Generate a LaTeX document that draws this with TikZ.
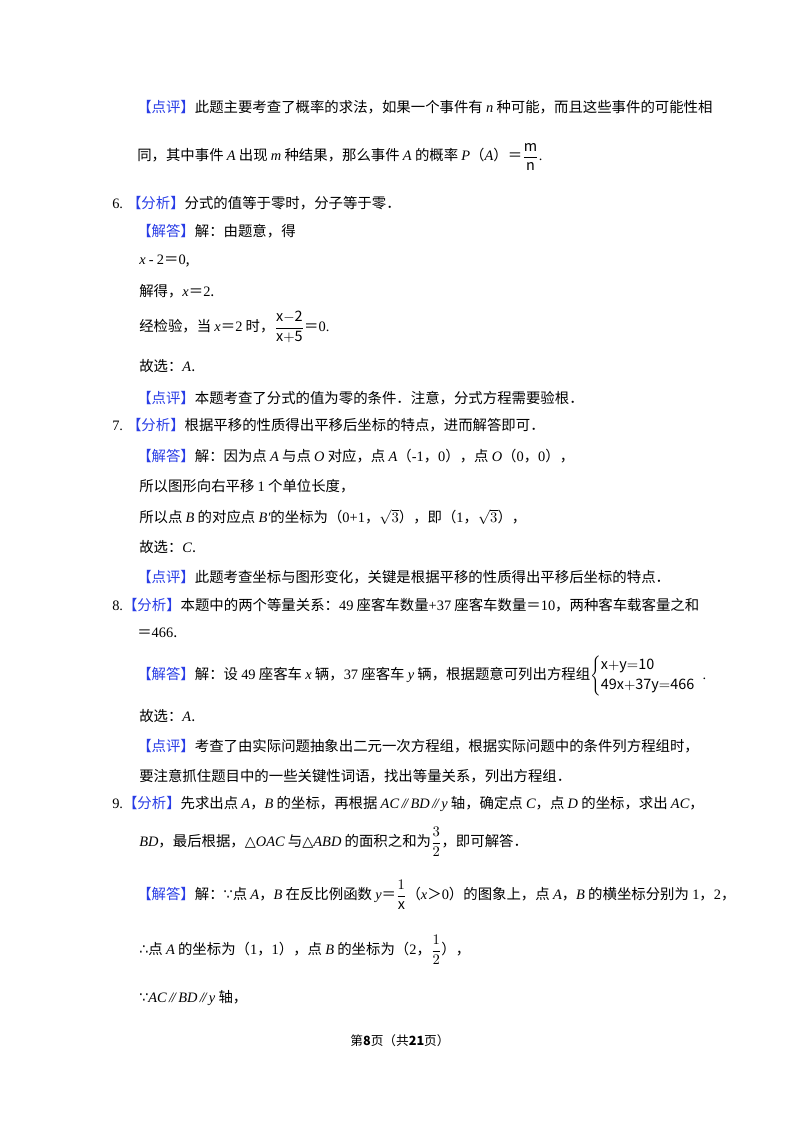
\documentclass[tikz,border=0pt]{standalone}
\usepackage{fontspec}
\setmainfont{Noto Sans CJK SC}
\newfontfamily\lat{Liberation Serif}
\newfontfamily\sym{DejaVu Sans}
\definecolor{qblue}{RGB}{40,60,230}
\newcommand\B[1]{{\color{qblue}【#1】}}
\newcommand\mi[1]{{\lat\itshape #1}}
\newcommand\nr[1]{{\lat #1}}
\newcommand\sy[1]{{\sym #1}}
\newcommand\pll{\mi{\,/\kern-1pt/\,}}
\newcommand\df[2]{$\displaystyle\frac{#1}{#2}$}
\begin{document}
\begin{tikzpicture}[x=0.75pt,y=-0.75pt,
  ln/.style={anchor=west,inner sep=0pt,font=\fontsize{10.8}{13}\selectfont}]
\useasboundingbox (0,0) rectangle (800,1132);
\fill[white] (0,0) rectangle (800,1132);
\node[ln] (l1) at (137,107) {\B{点评}此题主要考查了概率的求法，如果一个事件有 \mi{n} 种可能，而且这些事件的可能性相};
\node[ln] (l2) at (137,157) {同，其中事件 \mi{A} 出现 \mi{m} 种结果，那么事件 \mi{A} 的概率 \mi{P}（\mi{A}）＝\df{\mathrm{m}}{\mathrm{n}}\nr{.}};
\node[ln] (l3) at (112,203) {\nr{6.}\hspace{3pt}\B{分析}分式的值等于零时，分子等于零．};
\node[ln] (l4) at (137,231) {\B{解答}解：由题意，得};
\node[ln] (l5) at (139,261) {\mi{x} \nr{-} \nr{2}＝\nr{0},};
\node[ln] (l6) at (139,291) {解得，\mi{x}＝\nr{2}.};
\node[ln] (l7) at (139,327) {经检验，当 \mi{x}＝\nr{2} 时，\df{\mathrm{x{-}2}}{\mathrm{x{+}5}}＝\nr{0.}};
\node[ln] (l8) at (139,366) {故选：\mi{A}.};
\node[ln] (l9) at (137,398) {\B{点评}本题考查了分式的值为零的条件．注意，分式方程需要验根．};
\node[ln] (l10) at (112,425) {\nr{7.}\hspace{3pt}\B{分析}根据平移的性质得出平移后坐标的特点，进而解答即可．};
\node[ln] (l11) at (137,456) {\B{解答}解：因为点 \mi{A} 与点 \mi{O} 对应，点 \mi{A}（\nr{-1}，\nr{0}），点 \mi{O}（\nr{0}，\nr{0}），};
\node[ln] (l12) at (139,486) {所以图形向右平移 \nr{1} 个单位长度，};
\node[ln] (l13) at (139,517) {所以点 \mi{B} 的对应点 \mi{B′}的坐标为（\nr{0+1}，$\sqrt{3}$），即（\nr{1}，$\sqrt{3}$），};
\node[ln] (l14) at (139,547) {故选：\mi{C}.};
\node[ln] (l15) at (137,577) {\B{点评}此题考查坐标与图形变化，关键是根据平移的性质得出平移后坐标的特点．};
\node[ln] (l16) at (112,605) {\nr{8.}\B{分析}本题中的两个等量关系：\nr{49} 座客车数量\nr{+37} 座客车数量＝\nr{10}，两种客车载客量之和};
\node[ln] (l17) at (137,633) {＝\nr{466}.};
\node[ln] (l18) at (137,676) {\B{解答}解：设 \nr{49} 座客车 \mi{x} 辆，\nr{37} 座客车 \mi{y} 辆，根据题意可列出方程组$\left\{\begin{array}{@{}l}\mathrm{x{+}y{=}10}\\[2pt]\mathrm{49x{+}37y{=}466}\end{array}\right.$\nr{.}};
\node[ln] (l19) at (139,716) {故选：\mi{A}.};
\node[ln] (l20) at (137,746) {\B{点评}考查了由实际问题抽象出二元一次方程组，根据实际问题中的条件列方程组时，};
\node[ln] (l21) at (139,776) {要注意抓住题目中的一些关键性词语，找出等量关系，列出方程组．};
\node[ln] (l22) at (112,804) {\nr{9.}\B{分析}先求出点 \mi{A}，\mi{B} 的坐标，再根据 \mi{AC}\pll\mi{BD}\pll\mi{y} 轴，确定点 \mi{C}，点 \mi{D} 的坐标，求出 \mi{AC}，};
\node[ln] (l23) at (139,842) {\mi{BD}，最后根据，\sy{△}\mi{OAC} 与\sy{△}\mi{ABD} 的面积之和为\df{3}{2}，即可解答．};
\node[ln] (l24) at (137,895) {\B{解答}解：\sy{∵}点 \mi{A}，\mi{B} 在反比例函数 \mi{y}＝\df{1}{\mathrm{x}}（\mi{x}＞\nr{0}）的图象上，点 \mi{A}，\mi{B} 的横坐标分别为 \nr{1}，\nr{2}，};
\node[ln] (l25) at (139,950) {\sy{∴}点 \mi{A} 的坐标为（\nr{1}，\nr{1}），点 \mi{B} 的坐标为（\nr{2}，\df{1}{2}），};
\node[ln] (l26) at (139,998) {\sy{∵}\mi{AC}\pll\mi{BD}\pll\mi{y} 轴，};
\node[ln,anchor=center,font=\fontsize{9.5}{11}\selectfont] (ft) at (400,1041) {第\textbf{8}页（共\textbf{21}页）};
\end{tikzpicture}
\end{document}
